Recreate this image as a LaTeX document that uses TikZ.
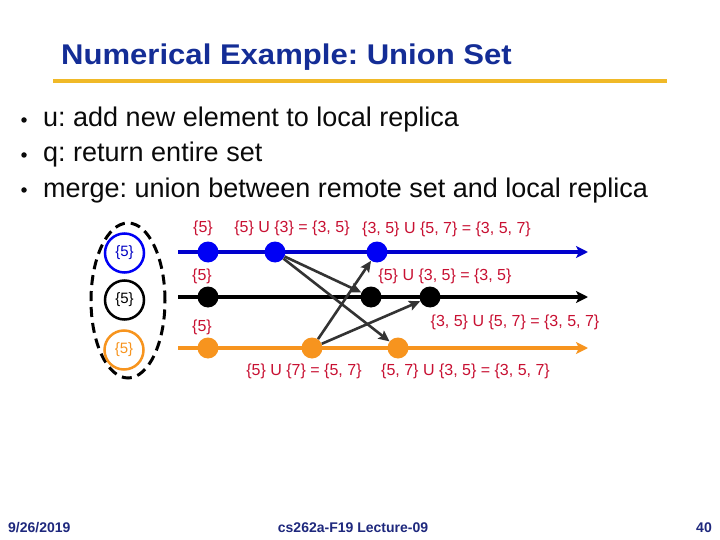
\documentclass[tikz,border=0pt]{standalone}
\usepackage{fontspec}
\setmainfont{Liberation Sans}
\usetikzlibrary{arrows.meta,shapes.geometric}
\definecolor{titleblue}{RGB}{20,45,150}
\definecolor{footblue}{RGB}{30,40,125}
\definecolor{gold}{RGB}{240,185,40}
\definecolor{lineblue}{RGB}{0,0,205}
\definecolor{dotblue}{RGB}{0,0,245}
\definecolor{dotorange}{RGB}{247,148,30}
\definecolor{lab}{RGB}{200,16,50}
\definecolor{arrowgray}{RGB}{51,51,51}
\definecolor{bodytext}{RGB}{10,10,10}
\frenchspacing
\tikzset{
  dot/.style={circle, minimum size=21pt, inner sep=0pt},
  timeline/.style={line width=3.5pt, -{Stealth[length=12pt,width=12pt,inset=3pt]}},
  msg/.style={line width=2.6pt, draw=arrowgray, -{Stealth[length=11pt,width=10pt,inset=2pt]}},
  lbl/.style={text=lab, inner sep=0pt, font=\fontsize{16}{19}\selectfont},
  rep/.style={circle, line width=2.5pt, minimum size=39pt, inner sep=0pt, font=\fontsize{15}{18}\selectfont},
  bullet/.style={anchor=base west, inner sep=0pt, text=bodytext, font=\fontsize{27}{32}\selectfont},
  bdot/.style={circle, fill=bodytext, minimum size=5.5pt, inner sep=0pt},
  foot/.style={inner sep=0pt, text=footblue, font=\fontsize{14}{17}\selectfont\bfseries}
}
\begin{document}
\begin{tikzpicture}[x=1pt,y=-1pt]
\useasboundingbox (0,0) rectangle (720,540);
\fill[white] (0,0) rectangle (720,540);

% title
\node[anchor=base west, inner sep=0pt, text=titleblue, font=\fontsize{28.5}{34}\selectfont\bfseries] (title) at (61,65) {\scalebox{1.09}[1]{Numerical Example: Union Set}};
\coordinate (gl) at (53,81.5);
\coordinate (gr) at (667,81.5);
\draw[gold, line width=4pt] (gl) -- (gr);

% bullets
\node[bdot] (d1) at (24,120) {};
\node[bdot] (d2) at (24,155) {};
\node[bdot] (d3) at (24,190) {};
\node[bullet] (i1) at (43,127) {u: add new element to local replica};
\node[bullet] (i2) at (43,162) {q: return entire set};
\node[bullet] (i3) at (43,197) {merge: union between remote set and local replica};

% replicas group
\node[draw, dashed, dash pattern=on 10pt off 6pt, line width=3pt, ellipse, minimum width=74pt, minimum height=155pt, inner sep=0pt] (grp) at (128,300.5) {};
\node[rep, draw=dotblue, text=dotblue!80!black] (r1) at (124.5,253) {\{5\}};
\node[rep, draw=black, text=black] (r2) at (124.5,300) {\{5\}};
\node[rep, draw=dotorange, text=dotorange] (r3) at (124,350) {\{5\}};

% timelines
\coordinate (bs) at (178,252); \coordinate (be) at (588,252);
\coordinate (ks) at (178,297); \coordinate (ke) at (588,297);
\coordinate (os) at (178,348); \coordinate (oe) at (588,348);
\draw[timeline, lineblue] (bs) -- (be);
\draw[timeline, black] (ks) -- (ke);
\draw[timeline, dotorange] (os) -- (oe);

% events
\node[dot, fill=dotblue] (b1) at (208,252) {};
\node[dot, fill=dotblue] (b2) at (275,252) {};
\node[dot, fill=dotblue] (b3) at (377,252) {};
\node[dot, fill=black] (k1) at (208,297) {};
\node[dot, fill=black] (k2) at (371,297) {};
\node[dot, fill=black] (k3) at (430,297) {};
\node[dot, fill=dotorange] (o1) at (208,348) {};
\node[dot, fill=dotorange] (o2) at (312,348) {};
\node[dot, fill=dotorange] (o3) at (398,348) {};

% messages
\draw[msg] (b2) -- (k2);
\draw[msg] (b2) -- (o3);
\draw[msg] (o2) -- (b3);
\draw[msg] (o2) -- (k3);

% labels
\node[lbl] (lb1) at (203,228) {\{5\}};
\node[lbl] (lb2) at (292,228) {\{5\} U \{3\} = \{3, 5\}};
\node[lbl] (lb3) at (446.5,229) {\{3, 5\} U \{5, 7\} = \{3, 5, 7\}};
\node[lbl] (lk1) at (202,276) {\{5\}};
\node[lbl] (lk2) at (445,276) {\{5\} U \{3, 5\} = \{3, 5\}};
\node[lbl] (lk3) at (515,322) {\{3, 5\} U \{5, 7\} = \{3, 5, 7\}};
\node[lbl] (lo1) at (202,327) {\{5\}};
\node[lbl] (lo2) at (304,371) {\{5\} U \{7\} = \{5, 7\}};
\node[lbl] (lo3) at (465.5,371) {\{5, 7\} U \{3, 5\} = \{3, 5, 7\}};

% footer
\node[foot, anchor=west] (date) at (8,528) {9/26/2019};
\node[foot] (course) at (353,528) {cs262a-F19 Lecture-09};
\node[foot, anchor=east] (page) at (712,528) {40};
\end{tikzpicture}
\end{document}
